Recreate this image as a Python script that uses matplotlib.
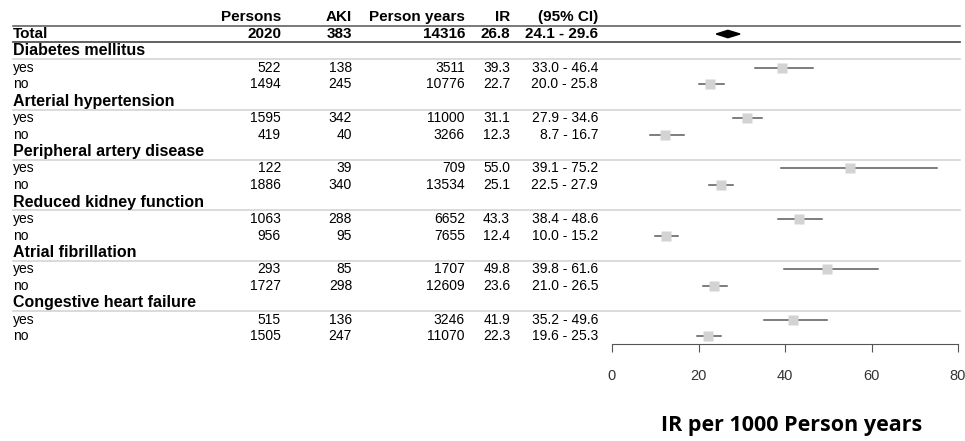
import matplotlib
matplotlib.use("Agg")
import matplotlib.pyplot as plt
import matplotlib.transforms as mtransforms

plt.rcParams['font.family'] = ['Liberation Sans', 'DejaVu Sans']

# data
groups = ["Diabetes mellitus", "Arterial hypertension", "Peripheral artery disease",
          "Reduced kidney function", "Atrial fibrillation", "Congestive heart failure"]
levels = ["yes", "no"]
persons = [522, 1494, 1595, 419, 122, 1886, 1063, 956, 293, 1727, 515, 1505]
aki = [138, 245, 342, 40, 39, 340, 288, 95, 85, 298, 136, 247]
person_years = [3511, 10776, 11000, 3266, 709, 13534, 6652, 7655, 1707, 12609, 3246, 11070]
ir = [39.3, 22.7, 31.1, 12.3, 55.0, 25.1, 43.3, 12.4, 49.8, 23.6, 41.9, 22.3]
ci_low = [33.0, 20.0, 27.9, 8.7, 39.1, 22.5, 38.4, 10.0, 39.8, 21.0, 35.2, 19.6]
ci_high = [46.4, 25.8, 34.6, 16.7, 75.2, 27.9, 48.6, 15.2, 61.6, 26.5, 49.6, 25.3]
total = [2020, 383, 14316, 26.8, 24.1, 29.6]
headers = ["Persons", "AKI", "Person years", "IR", "(95% CI)"]
xticks = [0, 20, 40, 60, 80]

W, H = 965, 441
fig = plt.figure(figsize=(W / 100, H / 100), dpi=100)
# forest axes: rows are y units, Total = row 0, header = row -1
ax = fig.add_axes([612 / W, 1 - 344 / H, (958 - 612) / W, (344 - 8.8) / H])
ax.set_xlim(0, 80)
ax.set_ylim(18.45, -1.5)

tr = mtransforms.blended_transform_factory(fig.transFigure, ax.transData)
col_x = [281, 352, 465, 510, 598]
left_x = 13 / W

# header
for h, cx in zip(headers, col_x):
    ax.text(cx / W, -1, h, transform=tr, ha='right', va='center', fontsize=11, fontweight='bold')
ax.text(left_x, 0, "Total", transform=tr, ha='left', va='center', fontsize=11, fontweight='bold')
tot_txt = [str(total[0]), str(total[1]), str(total[2]), f"{total[3]:.1f}",
           f"{total[4]:.1f} - {total[5]:.1f}"]
for t, cx in zip(tot_txt, col_x):
    ax.text(cx / W, 0, t, transform=tr, ha='right', va='center', fontsize=11, fontweight='bold')

ax.plot([13 / W, 960 / W], [-0.5, -0.5], transform=tr, color='#555555', lw=1.1, clip_on=False)
ax.plot([13 / W, 960 / W], [0.5, 0.5], transform=tr, color='#555555', lw=1.3, clip_on=False)

# total diamond
ax.fill([total[4], total[3], total[5], total[3]], [0, -0.22, 0, 0.22], color='black', clip_on=False)

row = 1
for gi, g in enumerate(groups):
    ax.text(left_x, row, g, transform=tr, ha='left', va='center', fontsize=11.5, fontweight='bold')
    ax.plot([13 / W, 960 / W], [row + 0.5, row + 0.5], transform=tr, color='#d4d4d4', lw=1.2, clip_on=False)
    for li, lv in enumerate(levels):
        k = gi * 2 + li
        y = row + 1 + li
        ax.text(left_x, y, lv, transform=tr, ha='left', va='center', fontsize=10)
        vals = [str(persons[k]), str(aki[k]), str(person_years[k]), f"{ir[k]:.1f}",
                f"{ci_low[k]:.1f} - {ci_high[k]:.1f}"]
        for t, cx in zip(vals, col_x):
            ax.text(cx / W, y, t, transform=tr, ha='right', va='center', fontsize=10)
        ax.plot([ci_low[k], ci_high[k]], [y, y], color='#5a5a5a', lw=1.1, zorder=2)
        ax.plot(ir[k], y, marker='s', ms=7, color='#d3d3d3', mec='none', zorder=3)
    row += 3

for s in ['top', 'right', 'left']:
    ax.spines[s].set_visible(False)
ax.spines['bottom'].set_color('#555555')
ax.set_yticks([])
ax.set_xticks(xticks)
ax.tick_params(axis='x', direction='out', length=6, color='#555555', labelsize=10.5,
               labelcolor='#333333', pad=12)
ax.set_facecolor('none')

fig.text(792 / W, 1 - 426 / H, "IR per 1000 Person years", ha='center', va='center',
         fontsize=15.5, fontweight='bold', family=['Open Sans', 'DejaVu Sans'])

fig.savefig("out.png", dpi=100)
